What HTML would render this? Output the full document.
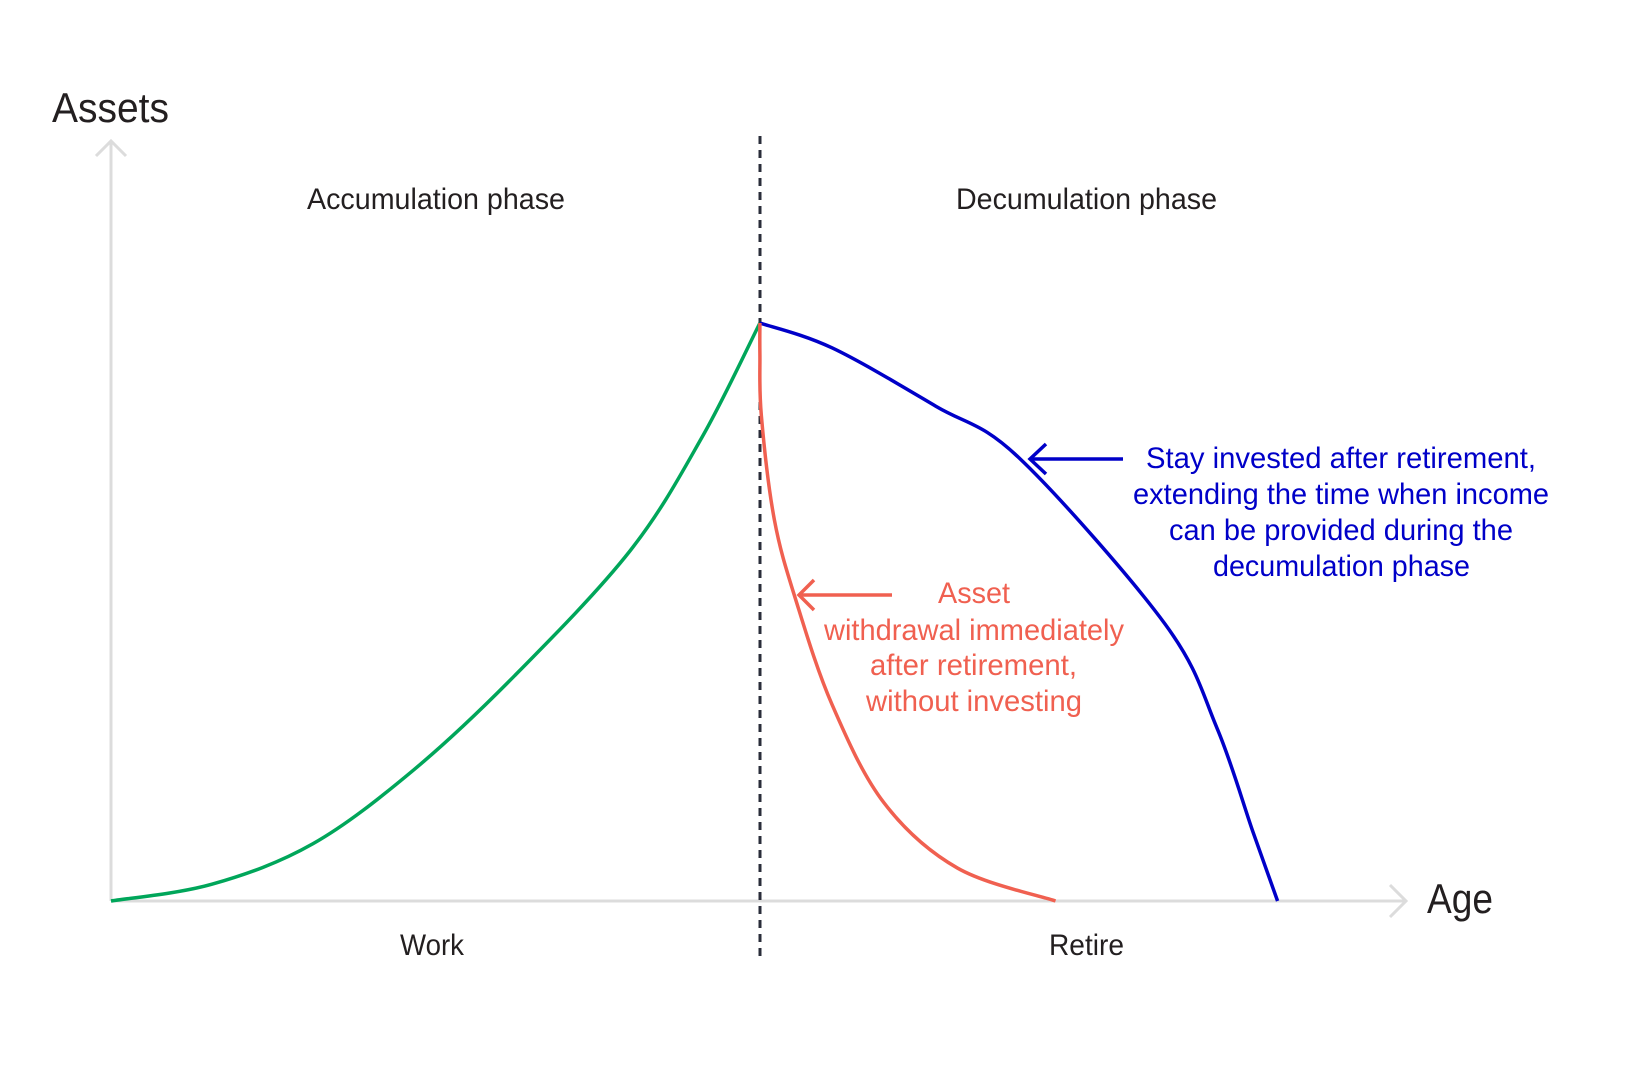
<!DOCTYPE html>
<html><head><meta charset="utf-8"><style>
html,body{margin:0;padding:0;background:#fff;}
svg{display:block;}
text{font-family:"Liberation Sans Narrow","Liberation Sans",sans-serif;}
</style></head><body>
<svg id="chart" width="1630" height="1067" viewBox="0 0 1630 1067" xmlns="http://www.w3.org/2000/svg">
<g id="axes">
<line x1="111" y1="901" x2="111" y2="142" stroke="#dcdcdc" stroke-width="3"/>
<polyline points="96,156 111,141 126,156" fill="none" stroke="#dcdcdc" stroke-width="3"/>
<line x1="111" y1="901" x2="1405" y2="901" stroke="#dcdcdc" stroke-width="3"/>
<polyline points="1390,885 1406,901 1390,917" fill="none" stroke="#dcdcdc" stroke-width="3"/>
<line x1="760" y1="136" x2="760" y2="958" stroke="#2a2d3a" stroke-width="3" stroke-dasharray="8,6"/>
</g>
<text x="52" y="122" font-size="42" fill="#231f20" textLength="117" lengthAdjust="spacingAndGlyphs">Assets</text>
<text x="1427" y="913" font-size="42" fill="#231f20" textLength="66" lengthAdjust="spacingAndGlyphs">Age</text>
<text x="307" y="209" font-size="30" fill="#231f20" textLength="258" lengthAdjust="spacingAndGlyphs">Accumulation phase</text>
<text x="956" y="209" font-size="30" fill="#231f20" textLength="261" lengthAdjust="spacingAndGlyphs">Decumulation phase</text>
<text x="400" y="955" font-size="30" fill="#231f20" textLength="64" lengthAdjust="spacingAndGlyphs">Work</text>
<text x="1049" y="955" font-size="30" fill="#231f20" textLength="75" lengthAdjust="spacingAndGlyphs">Retire</text>
<g id="series"></g>
<g fill="#0000c8" font-size="30">
<line x1="1123" y1="459" x2="1030" y2="459" stroke="#0000c8" stroke-width="3.5"/>
<polyline points="1046,444 1030,459 1046,474" fill="none" stroke="#0000c8" stroke-width="3.5"/>
<text x="1146" y="468" textLength="390" lengthAdjust="spacingAndGlyphs">Stay invested after retirement,</text>
<text x="1133" y="504" textLength="416" lengthAdjust="spacingAndGlyphs">extending the time when income</text>
<text x="1169" y="540" textLength="344" lengthAdjust="spacingAndGlyphs">can be provided during the</text>
<text x="1213" y="576" textLength="257" lengthAdjust="spacingAndGlyphs">decumulation phase</text>
</g>
<g fill="#f06050" font-size="30">
<line x1="892" y1="595" x2="799" y2="595" stroke="#f06050" stroke-width="3.5"/>
<polyline points="814,580 799,595 814,610" fill="none" stroke="#f06050" stroke-width="3.5"/>
<text x="938" y="603" textLength="72" lengthAdjust="spacingAndGlyphs">Asset</text>
<text x="824" y="640" textLength="300" lengthAdjust="spacingAndGlyphs">withdrawal immediately</text>
<text x="870" y="675" textLength="207" lengthAdjust="spacingAndGlyphs">after retirement,</text>
<text x="866" y="711" textLength="216" lengthAdjust="spacingAndGlyphs">without investing</text>
</g>
</svg>
<script>
const accumAges = [20, 27, 34, 41, 48, 56, 61, 65];
const accumValues = [0, 2.9, 9.9, 22.7, 39, 60.6, 80.3, 100];
const withdrawAges = [65, 65, 65.1, 66, 67.5, 70, 73.6, 78.7, 85.5];
const withdrawValues = [100, 94.6, 84, 66, 52, 34, 17, 5.7, 0];
const investedAges = [65, 70, 77.2, 83, 93.1, 96.7, 99.2, 100.9];
const investedValues = [100, 95.7, 85.6, 76.6, 47.9, 29.9, 11.9, 0];

function xScale(age){ return 111 + (age - 20) * 14.42; }
function yScale(v){ return 901 - v * 5.78; }

function smoothPath(xs, ys){
  const p = xs.map((a,i)=>[xScale(a), yScale(ys[i])]);
  let d = 'M' + p[0][0] + ',' + p[0][1];
  for(let i=0;i<p.length-1;i++){
    const p0=p[Math.max(0,i-1)], p1=p[i], p2=p[i+1], p3=p[Math.min(p.length-1,i+2)];
    const c1=[p1[0]+(p2[0]-p0[0])/6, p1[1]+(p2[1]-p0[1])/6];
    const c2=[p2[0]-(p3[0]-p1[0])/6, p2[1]-(p3[1]-p1[1])/6];
    d += ' C'+c1[0]+','+c1[1]+' '+c2[0]+','+c2[1]+' '+p2[0]+','+p2[1];
  }
  return d;
}
const g = document.getElementById('series');
function addLine(xs, ys, color, name){
  const el = document.createElementNS('http://www.w3.org/2000/svg','path');
  el.setAttribute('d', smoothPath(xs, ys));
  el.setAttribute('fill','none');
  el.setAttribute('stroke', color);
  el.setAttribute('stroke-width','3.5');
  
  
  g.appendChild(el);
}
addLine(accumAges, accumValues, '#00a65a', 'accumulation-curve');
addLine(investedAges, investedValues, '#0000c8', 'invested-decumulation-curve');
addLine(withdrawAges, withdrawValues, '#f06050', 'withdrawal-decumulation-curve');
</script>
</body></html>
